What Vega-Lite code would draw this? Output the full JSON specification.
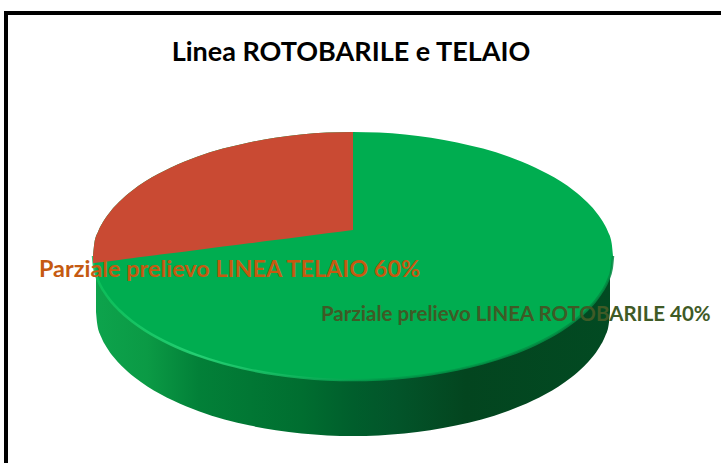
{
"$schema":"https://vega.github.io/schema/vega-lite/v6.json",
"width":721,"height":463,"padding":0,"autosize":{"type":"none"},
"background":"white",
"view":{"stroke":null},
"title":{"text":"Linea ROTOBARILE e TELAIO","anchor":"middle","frame":"group","dx":-9.5,"offset":-67,"font":"Lato","fontSize":27,"fontWeight":"bold","color":"#000000"},
"datasets":{
"side":[{"x":96,"top":256,"bottom":312},{"x":97.3,"top":256,"bottom":324.4},{"x":101.1,"top":256,"bottom":336.7},{"x":106.3,"top":256,"bottom":346.7},{"x":114,"top":256,"bottom":357.6},{"x":121.7,"top":256,"bottom":366},{"x":134.5,"top":256,"bottom":377.3},{"x":147.4,"top":256,"bottom":386.4},{"x":173.1,"top":256,"bottom":400.5},{"x":198.8,"top":256,"bottom":411.2},{"x":224.5,"top":256,"bottom":419.4},{"x":250.2,"top":256,"bottom":425.6},{"x":275.9,"top":256,"bottom":430.3},{"x":301.6,"top":256,"bottom":433.5},{"x":327.3,"top":256,"bottom":435.4},{"x":353,"top":256,"bottom":436},{"x":378.7,"top":256,"bottom":435.4},{"x":404.4,"top":256,"bottom":433.5},{"x":430.1,"top":256,"bottom":430.3},{"x":455.8,"top":256,"bottom":425.6},{"x":481.5,"top":256,"bottom":419.4},{"x":507.2,"top":256,"bottom":411.2},{"x":532.9,"top":256,"bottom":400.5},{"x":558.6,"top":256,"bottom":386.4},{"x":571.5,"top":256,"bottom":377.3},{"x":584.3,"top":256,"bottom":366},{"x":592,"top":256,"bottom":357.6},{"x":599.7,"top":256,"bottom":346.7},{"x":604.9,"top":256,"bottom":336.7},{"x":608.7,"top":256,"bottom":324.4},{"x":610,"top":256,"bottom":312}],
"face":[{"x":93,"top":256,"bottom":256},{"x":94.3,"top":243.6,"bottom":268.4},{"x":98.2,"top":231.3,"bottom":280.7},{"x":103.4,"top":221.3,"bottom":290.7},{"x":111.2,"top":210.4,"bottom":301.6},{"x":119,"top":202,"bottom":310},{"x":132,"top":190.7,"bottom":321.3},{"x":145,"top":181.6,"bottom":330.4},{"x":171,"top":167.5,"bottom":344.5},{"x":197,"top":156.8,"bottom":355.2},{"x":223,"top":148.6,"bottom":363.4},{"x":249,"top":142.4,"bottom":369.6},{"x":275,"top":137.7,"bottom":374.3},{"x":301,"top":134.5,"bottom":377.5},{"x":327,"top":132.6,"bottom":379.4},{"x":353,"top":132,"bottom":380},{"x":379,"top":132.6,"bottom":379.4},{"x":405,"top":134.5,"bottom":377.5},{"x":431,"top":137.7,"bottom":374.3},{"x":457,"top":142.4,"bottom":369.6},{"x":483,"top":148.6,"bottom":363.4},{"x":509,"top":156.8,"bottom":355.2},{"x":535,"top":167.5,"bottom":344.5},{"x":561,"top":181.6,"bottom":330.4},{"x":574,"top":190.7,"bottom":321.3},{"x":587,"top":202,"bottom":310},{"x":594.8,"top":210.4,"bottom":301.6},{"x":602.6,"top":221.3,"bottom":290.7},{"x":607.8,"top":231.3,"bottom":280.7},{"x":611.7,"top":243.6,"bottom":268.4},{"x":613,"top":256,"bottom":256}],
"wedge":[{"x":93,"top":256,"bottom":263.3},{"x":94.3,"top":243.6,"bottom":263.1},{"x":98.2,"top":231.3,"bottom":262.6},{"x":103.4,"top":221.3,"bottom":261.9},{"x":111.2,"top":210.4,"bottom":260.9},{"x":119,"top":202,"bottom":259.9},{"x":132,"top":190.7,"bottom":258.3},{"x":145,"top":181.6,"bottom":256.6},{"x":171,"top":167.5,"bottom":253.3},{"x":197,"top":156.8,"bottom":250},{"x":223,"top":148.6,"bottom":246.6},{"x":249,"top":142.4,"bottom":243.3},{"x":275,"top":137.7,"bottom":240},{"x":301,"top":134.5,"bottom":236.7},{"x":327,"top":132.6,"bottom":233.3},{"x":353,"top":132,"bottom":230}],
"frame":[{"x":4,"x2":721,"y":13,"y2":13},{"x":6,"x2":6,"y":11,"y2":463}],
"labels":[{"x":39,"y":277,"label":"Parziale prelievo LINEA TELAIO 60%","series":"telaio"},{"x":321,"y":321,"label":"Parziale  prelievo LINEA ROTOBARILE  40%","series":"rotobarile"}]
},
"encoding":{
"x":{"field":"x","type":"quantitative","scale":{"domain":[0,721],"nice":false,"zero":false},"axis":null},
"y":{"field":"top","type":"quantitative","scale":{"domain":[0,463],"reverse":true,"nice":false,"zero":false},"axis":null}
},
"layer":[
{"data":{"name":"side"},"mark":{"type":"area","interpolate":"monotone","color":{"gradient":"linear","x1":0,"y1":0,"x2":1,"y2":0,"stops":[{"offset":0,"color":"#0da34c"},{"offset":0.1,"color":"#0b9a45"},{"offset":0.2,"color":"#028038"},{"offset":0.4,"color":"#006e30"},{"offset":0.5,"color":"#005e2c"},{"offset":0.58,"color":"#02552a"},{"offset":0.72,"color":"#03451f"},{"offset":1,"color":"#024a22"}]}},"encoding":{"y2":{"field":"bottom"}}},
{"data":{"name":"face"},"mark":{"type":"area","interpolate":"monotone","color":"#00ad50"},"encoding":{"y2":{"field":"bottom"}}},
{"data":{"name":"face"},"mark":{"type":"line","interpolate":"monotone","strokeWidth":2.5,"opacity":0.85,"stroke":{"gradient":"linear","x1":0,"y1":0,"x2":1,"y2":0,"stops":[{"offset":0,"color":"#0cc05a"},{"offset":0.2,"color":"#2bd77a"},{"offset":0.4,"color":"#12b65e"},{"offset":0.55,"color":"#019c4a"},{"offset":1,"color":"#038a42"}]}},"encoding":{"y":{"field":"bottom","type":"quantitative"}}},
{"data":{"name":"wedge"},"mark":{"type":"area","interpolate":"monotone","color":"#c94a33"},"encoding":{"y2":{"field":"bottom"}}},
{"data":{"name":"frame"},"mark":{"type":"rule","stroke":"#000000","strokeWidth":4},"encoding":{"y":{"field":"y","type":"quantitative"},"x2":{"field":"x2"},"y2":{"field":"y2"}}},
{"data":{"name":"labels"},"transform":[{"filter":"datum.series==='telaio'"}],"mark":{"type":"text","align":"left","baseline":"alphabetic","font":"Lato","fontWeight":"bold","fontSize":23.4,"color":"#c55a11"},"encoding":{"y":{"field":"y","type":"quantitative"},"text":{"field":"label"}}},
{"data":{"name":"labels"},"transform":[{"filter":"datum.series==='rotobarile'"}],"mark":{"type":"text","align":"left","baseline":"alphabetic","font":"Lato","fontWeight":"bold","fontSize":20.5,"color":"#3f5a26"},"encoding":{"y":{"field":"y","type":"quantitative"},"text":{"field":"label"}}}
]
}
